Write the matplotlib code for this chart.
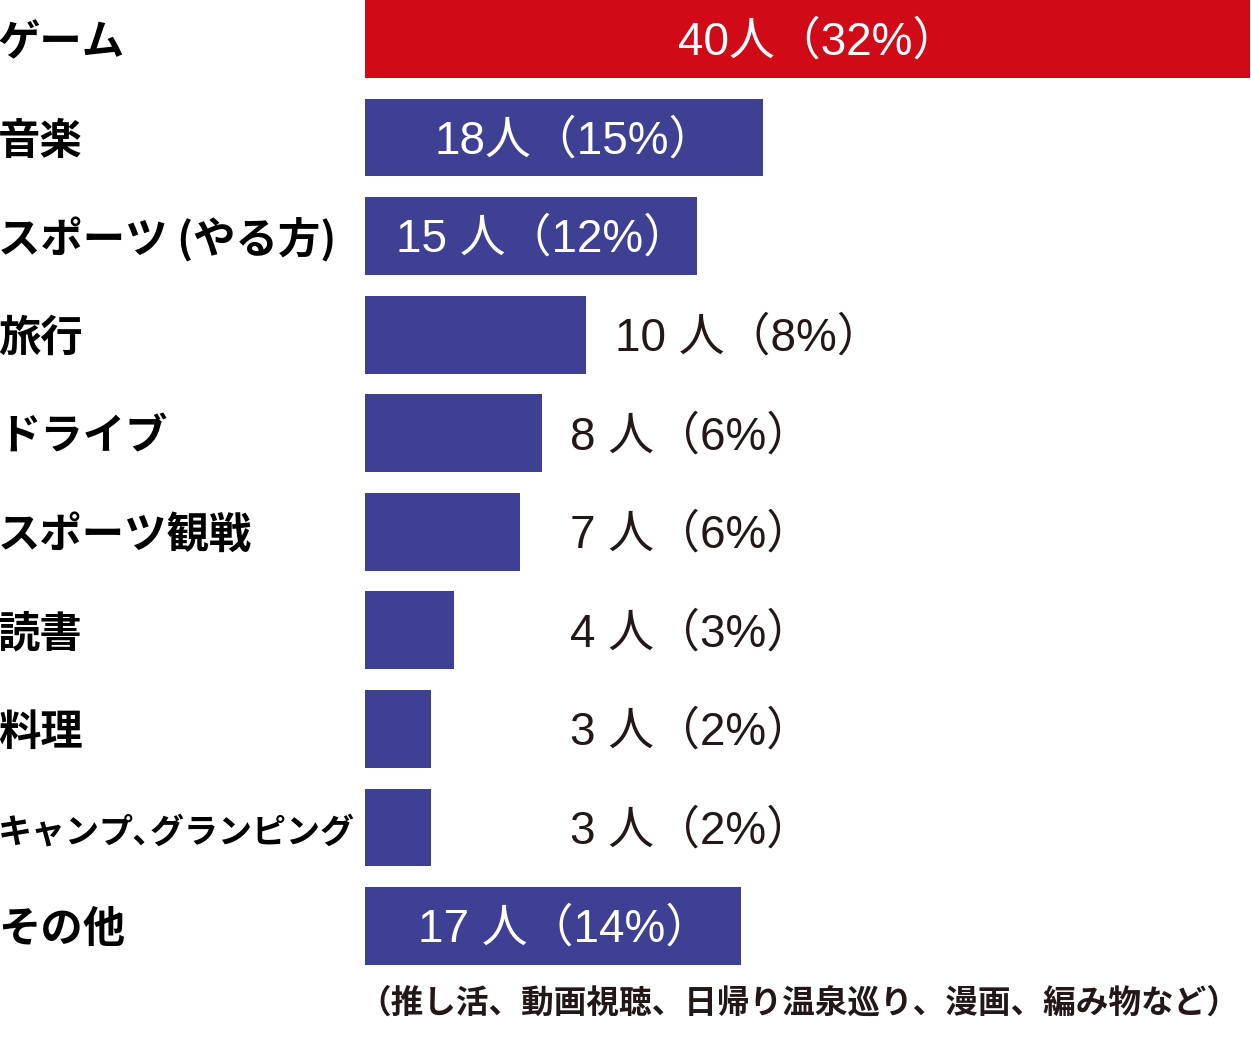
import matplotlib.pyplot as plt

plt.rcParams['font.family'] = ['Noto Sans CJK JP', 'DejaVu Sans']

# data
categories = ['ゲーム', '音楽', 'スポーツ (やる方)', '旅行', 'ドライブ',
              'スポーツ観戦', '読書', '料理', 'キャンプ､グランピング', 'その他']
counts = [40, 18, 15, 10, 8, 7, 4, 3, 3, 17]
percents = [32, 15, 12, 8, 6, 6, 3, 2, 2, 14]
spaced = [False, False, True, True, True, True, True, True, True, True]
note = '（推し活、動画視聴、日帰り温泉巡り、漫画、編み物など）'

RED = '#d10a17'
BLUE = '#3e4193'
DARK = '#231815'

W, H = 1251, 1042
fig = plt.figure(figsize=(W / 100, H / 100), dpi=100)
ax = fig.add_axes([365 / W, (H - 965) / H, 885 / W, 965 / H])
ax.set_xlim(0, 40)
ax.set_ylim(9.395, -0.395)
ax.axis('off')

ypos = list(range(len(categories)))
colors = [RED if i == 0 else BLUE for i in ypos]
ax.barh(ypos, counts, height=0.79, color=colors, linewidth=0)

val_font = ['Liberation Sans', 'Noto Sans CJK JP']
for i, (c, p, s) in enumerate(zip(counts, percents, spaced)):
    txt = f"{c}{' ' if s else ''}人（{p}%）"
    if c >= 15:
        # full-width closing paren leaves blank space on the right, nudge right
        ax.text(c / 2 + 0.5, i + 0.04, txt, ha='center', va='center',
                color='white', fontsize=33, family=val_font)
    else:
        x = 11.3 if c >= 10 else 9.27
        ax.text(x, i + 0.04, txt, ha='left', va='center', color=DARK,
                fontsize=33, family=val_font)

# category labels on the left
for i, cat in enumerate(categories):
    y_fig = 1 - (43 + 98.6 * i) / H
    size = 24.5 if len(cat) > 10 else 30.5
    fig.text(-2 / W, y_fig, cat, ha='left', va='center', fontsize=size,
             fontweight='bold', color='black')

fig.text(358 / W, 1 - 1003 / H, note, ha='left', va='center', fontsize=23.5,
         fontweight='bold', color=DARK)

fig.savefig('out.png', dpi=100, facecolor='white')
